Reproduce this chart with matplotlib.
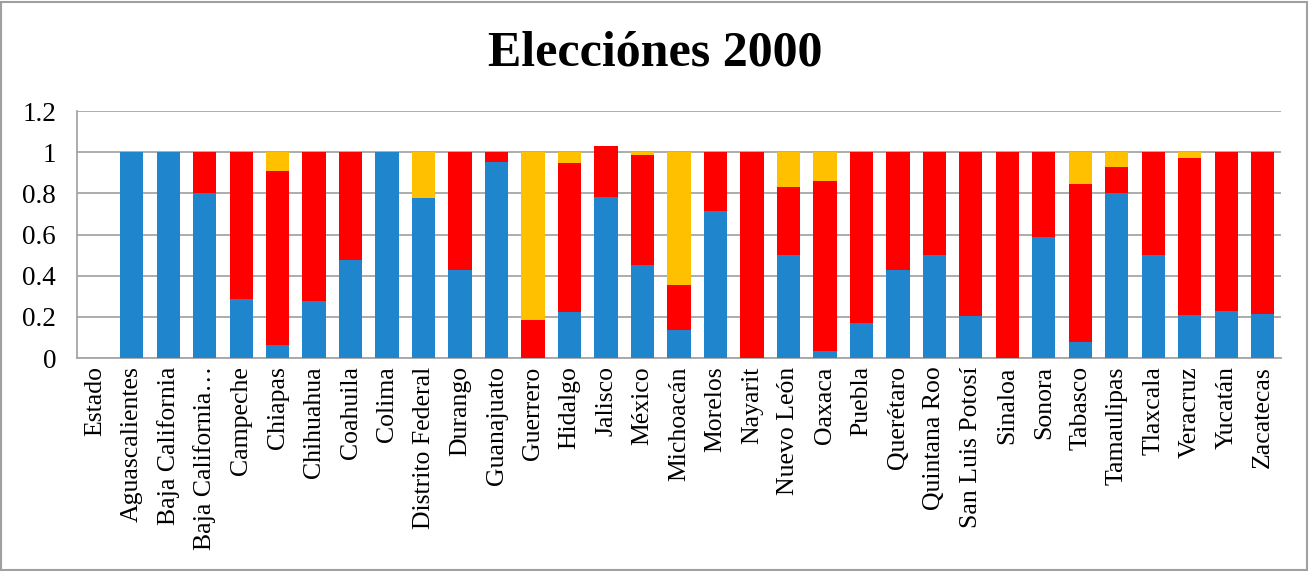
import matplotlib.pyplot as plt
from matplotlib.patches import Rectangle
import numpy as np

# Elecciones 2000 por estado: proporciones apiladas (azul, rojo, amarillo)
estados = ['Estado', 'Aguascalientes', 'Baja California', 'Baja California…',
           'Campeche', 'Chiapas', 'Chihuahua', 'Coahuila', 'Colima',
           'Distrito Federal', 'Durango', 'Guanajuato', 'Guerrero', 'Hidalgo',
           'Jalisco', 'México', 'Michoacán', 'Morelos', 'Nayarit', 'Nuevo León',
           'Oaxaca', 'Puebla', 'Querétaro', 'Quintana Roo', 'San Luis Potosí',
           'Sinaloa', 'Sonora', 'Tabasco', 'Tamaulipas', 'Tlaxcala', 'Veracruz',
           'Yucatán', 'Zacatecas']

azul = [0, 1.0, 1.0, 0.80, 0.286, 0.065, 0.277, 0.477, 1.0,
        0.775, 0.427, 0.951, 0.0, 0.222, 0.783, 0.451, 0.136, 0.714, 0.0, 0.50,
        0.036, 0.172, 0.427, 0.50, 0.206, 0.0, 0.589, 0.079, 0.80, 0.50, 0.209,
        0.228, 0.214]

rojo = [0, 0.0, 0.0, 0.20, 0.714, 0.844, 0.723, 0.523, 0.0,
        0.0, 0.573, 0.049, 0.183, 0.723, 0.246, 0.533, 0.217, 0.286, 1.0, 0.332,
        0.826, 0.828, 0.573, 0.50, 0.794, 1.0, 0.411, 0.767, 0.130, 0.50, 0.765,
        0.772, 0.786]

amarillo = [0, 0.0, 0.0, 0.0, 0.0, 0.091, 0.0, 0.0, 0.0,
            0.225, 0.0, 0.0, 0.817, 0.055, 0.0, 0.016, 0.647, 0.0, 0.0, 0.168,
            0.138, 0.0, 0.0, 0.0, 0.0, 0.0, 0.0, 0.154, 0.070, 0.0, 0.026,
            0.0, 0.0]

c_azul = '#1F86CD'
c_rojo = '#FF0000'
c_amarillo = '#FFC000'
gris = '#A6A6A6'

plt.rcParams['font.family'] = ['Liberation Serif', 'DejaVu Serif']

fig = plt.figure(figsize=(13.1, 5.71), dpi=100)
ax = fig.add_axes([0.0588, 0.373, 0.919, 0.4326])

x = np.arange(len(estados))
a = np.array(azul)
r = np.array(rojo)
y = np.array(amarillo)
w = 0.64

ax.bar(x, a, w, color=c_azul, zorder=3)
ax.bar(x, r, w, bottom=a, color=c_rojo, zorder=3)
ax.bar(x, y, w, bottom=a + r, color=c_amarillo, zorder=3)

ax.set_xlim(-0.5, len(estados) - 0.5)
ax.set_ylim(0, 1.2)
ax.set_yticks([0, 0.2, 0.4, 0.6, 0.8, 1, 1.2])
ax.set_yticklabels(['0', '0.2', '0.4', '0.6', '0.8', '1', '1.2'], fontsize=19.5)
ax.set_xticks(x)
ax.set_xticklabels(estados, rotation=90, fontsize=18.5)
ax.tick_params(axis='y', length=0, pad=15)
ax.tick_params(axis='x', length=0, pad=6)

ax.yaxis.grid(True, color=gris, linewidth=1.3, zorder=0)
for s in ['top', 'right']:
    ax.spines[s].set_visible(False)
ax.spines['left'].set_color(gris)
ax.spines['bottom'].set_color(gris)
ax.spines['left'].set_linewidth(1.3)
ax.spines['bottom'].set_linewidth(1.3)

fig.text(0.5, 0.907, 'Elecciónes 2000', ha='center', va='center',
         fontsize=36, fontweight='bold')

# marco exterior del gráfico
fig.patches.append(Rectangle((0.001, 0.002), 0.997, 0.995, transform=fig.transFigure,
                             fill=False, edgecolor='#A0A0A0', linewidth=1.5))

fig.savefig('out.png', dpi=100)
